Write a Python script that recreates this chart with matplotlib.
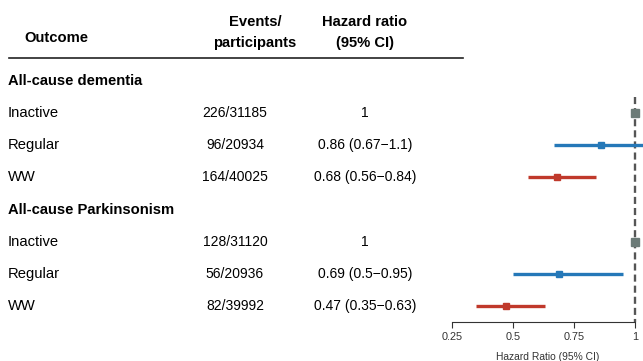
import matplotlib.pyplot as plt
import matplotlib.transforms as mtransforms

plt.rcParams['font.family'] = ['Liberation Sans', 'DejaVu Sans']

# data
outcomes = ["All-cause dementia", "All-cause Parkinsonism"]
groups = ["Inactive", "Regular", "WW"]
events = [["226/31185", "96/20934", "164/40025"],
          ["128/31120", "56/20936", "82/39992"]]
hr = [[1.0, 0.86, 0.68], [1.0, 0.69, 0.47]]
lo = [[1.0, 0.67, 0.56], [1.0, 0.50, 0.35]]
hi = [[1.0, 1.10, 0.84], [1.0, 0.95, 0.63]]
hr_text = [["1", "0.86 (0.67\u22121.1)", "0.68 (0.56\u22120.84)"],
           ["1", "0.69 (0.5\u22120.95)", "0.47 (0.35\u22120.63)"]]
colors = ["#6b7a77", "#2578b8", "#c0392b"]
ticks = [0.25, 0.5, 0.75, 1]

W, H = 643, 361
fig = plt.figure(figsize=(W / 100, H / 100), dpi=100)

# forest panel
left, right, top, bottom = 452, 643, 81, 322
ax = fig.add_axes([left / W, 1 - bottom / H, (right - left) / W, (bottom - top) / H])
xmax = 0.25 + (right - left) * 0.75 / (635 - 452)
ax.set_xlim(0.25, xmax)
ax.set_ylim(7.5, 0)

for s in ["top", "right", "left"]:
    ax.spines[s].set_visible(False)
ax.spines["bottom"].set_bounds(0.25, 1)
ax.spines["bottom"].set_color("#333333")
ax.set_yticks([])
ax.set_xticks(ticks)
ax.set_xticklabels([str(t) for t in ticks], fontsize=7.8, color="#333333")
ax.tick_params(axis="x", length=4, color="#333333", pad=3.5)
ax.set_xlabel("Hazard Ratio (95% CI)", fontsize=7.4, color="#333333", labelpad=7)

ax.vlines(1, 0.5, 7.5, colors="#555555", linestyles=(0, (3, 1.7)), lw=1.7, zorder=1)

tr = mtransforms.blended_transform_factory(fig.transFigure, ax.transData)

y = 0
for i, outcome in enumerate(outcomes):
    ax.text(8 / W, y, outcome, transform=tr, fontsize=10.6, fontweight="bold",
            va="center", ha="left")
    y += 1
    for j, g in enumerate(groups):
        ax.text(8 / W, y, g, transform=tr, fontsize=10.6, va="center", ha="left")
        ax.text(235 / W, y, events[i][j], transform=tr, fontsize=10,
                va="center", ha="center")
        ax.text(365 / W, y, hr_text[i][j], transform=tr, fontsize=10,
                va="center", ha="center")
        if j == 0:
            ax.plot(hr[i][j], y, marker="s", ms=6, color=colors[j], zorder=3,
                    clip_on=False)
        else:
            ax.hlines(y, lo[i][j], hi[i][j], colors=colors[j], lw=2.4, zorder=2)
            ax.plot(hr[i][j], y, marker="s", ms=4.5, color=colors[j], zorder=3)
        y += 1

# column headers
hdr = dict(fontsize=10.6, fontweight="bold", va="center", ha="center")
fig.text(24 / W, 1 - 38 / H, "Outcome", fontsize=10.6, fontweight="bold",
         va="center", ha="left")
fig.text(255 / W, 1 - 22 / H, "Events/", **hdr)
fig.text(255 / W, 1 - 43 / H, "participants", **hdr)
fig.text(365 / W, 1 - 22 / H, "Hazard ratio", **hdr)
fig.text(365 / W, 1 - 43 / H, "(95% CI)", **hdr)
fig.add_artist(plt.Line2D([9 / W, 463 / W], [1 - 58 / H, 1 - 58 / H],
                          color="#222222", lw=1.2))

fig.savefig("out.png", dpi=100)
